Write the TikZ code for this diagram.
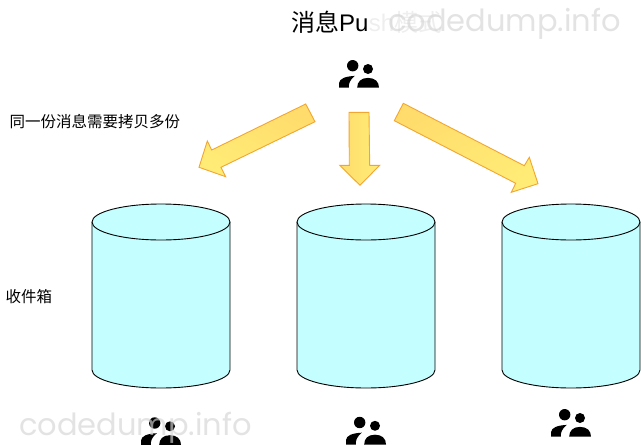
\documentclass[tikz,border=0pt]{standalone}
\usepackage{fontspec}
\setmainfont{Liberation Sans}
\newfontfamily\cjk{Noto Sans CJK SC}
\newfontfamily\wmfont{Poppins}
\usetikzlibrary{calc}
\definecolor{cylfill}{HTML}{C4FEFF}
\definecolor{arrowedge}{HTML}{F2A52F}
\definecolor{arrowa}{HTML}{FFDC6C}
\definecolor{arrowb}{HTML}{FFEC76}
\definecolor{wmark}{HTML}{D4D4D4}
\definecolor{faint}{HTML}{EEEEEE}
\tikzset{
  x=1pt,y=-1pt,
  bigarrow/.style={draw=arrowedge,line width=0.9pt,line join=miter,left color=arrowa,right color=arrowb},
  cyl/.style={draw=black,line width=0.9pt,fill=cylfill},
  label/.style={inner sep=0pt,anchor=west,text=black},
  watermark/.style={inner sep=0pt,anchor=west,text=wmark,text opacity=0.65,font=\fontsize{30.5}{36}\selectfont\wmfont},
  people/.pic={
    \fill (13.7,-22) circle (5.7);
    \fill (29,-18.7) circle (5);
    \fill (0,0) -- (0,-4.5) .. controls (0.5,-9) and (6,-11.3) .. (15.8,-11.8) .. controls (11,-8) and (9.5,-4) .. (9.8,0) -- cycle;
    \fill (18.2,0) .. controls (18.2,-6) and (22,-9.8) .. (29,-9.8) .. controls (36,-9.8) and (40,-6) .. (40,0) -- cycle;
  }
}
\newcommand{\cylinderat}[1]{%
  \draw[cyl] (#1,222) -- (#1,370) arc[start angle=180,end angle=360,x radius=69,y radius=-18] -- (#1+138,222);
  \draw[cyl] (#1+69,222) ellipse[x radius=69,y radius=18];
}
\begin{document}
\begin{tikzpicture}
\useasboundingbox (0,0) rectangle (641,445);
% title
\node[label,font=\fontsize{24}{28}\selectfont] (title) at (291,22) {{\cjk 消息}Pu};
\node[label,text=faint,font=\fontsize{24}{28}\selectfont] (titlerest) at (title.east) {sh{\cjk 模式}};
\node[watermark] (wmtop) at (388,24) {codedump.info};
% labels
\node[label,font=\fontsize{15.5}{18}\selectfont\cjk] (copy) at (9.5,122) {同一份消息需要拷贝多份};
\node[label,font=\fontsize{15.5}{18}\selectfont\cjk] (inbox) at (5.5,297) {收件箱};
% arrows
\path[bigarrow,shading angle=-27] (305.7,104) -- (315,121.7) -- (221,167.3) -- (225.7,176.7) -- (199,167.3) -- (207.3,141) -- (211.7,150) -- cycle;
\path[bigarrow] (349,112.3) -- (369,112.3) -- (369.7,165.3) -- (379.7,165.3) -- (360,185.3) -- (339.7,165.3) -- (349.3,165.3) -- cycle;
\path[bigarrow,shading angle=27] (403.3,103.3) -- (394.3,120.7) -- (515.7,183.3) -- (511.3,192.3) -- (538,183.7) -- (529.3,157.3) -- (524.3,165.7) -- cycle;
% cylinders
\cylinderat{92}
\cylinderat{297}
\cylinderat{502}
% people
\pic at (339,87.7) {people};
\pic at (141,445) {people};
\pic at (346,444.5) {people};
\pic at (551,436.7) {people};
\node[watermark] (wmbottom) at (19,428) {codedump.info};
\end{tikzpicture}
\end{document}
